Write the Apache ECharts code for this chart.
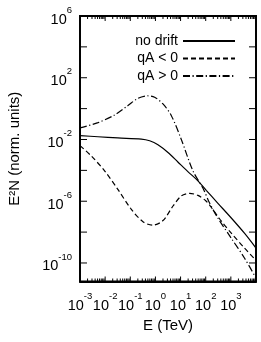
<!DOCTYPE html>
<html><head><meta charset="utf-8">
<script src="https://cdn.jsdelivr.net/npm/echarts@6/dist/echarts.min.js"></script>
<style>html,body{margin:0;padding:0;background:#fff}#c{width:261px;height:342px}</style>
</head><body><div id="c"></div>
<script>
// ---- data (E in TeV, E^2 N in normalised units) ----
const seriesNames = ['no drift', 'qA < 0', 'qA > 0'];

const eNoDrift = [1e-3, 5.2e-3, 3.2e-2, 0.275, 0.59, 1.26, 3.16, 7.8, 19.5, 49, 105, 300, 1020, 3470, 1e4];
const vNoDrift = [1.8e-2, 1.5e-2, 1.26e-2, 1.07e-2, 8.3e-3, 4.6e-3, 1.45e-3, 3.5e-4, 8.3e-5, 2.1e-5, 5.1e-6, 7.6e-7, 8.5e-8, 8.5e-9, 9.3e-10];

const eNeg = [1e-3, 2.8e-3, 9.5e-3, 3.2e-2, 0.11, 0.32, 0.79, 2.0, 5.0, 10.7, 23, 49, 105, 190, 420, 1020, 3470, 1e4];
const vNeg = [4.0e-3, 8.7e-4, 9.3e-5, 5.9e-6, 3.0e-7, 4.7e-8, 2.8e-8, 5.6e-8, 4.9e-7, 2.2e-6, 3.2e-6, 2.4e-6, 1.0e-6, 3.0e-7, 5.1e-8, 8.9e-9, 9.3e-10, 1.5e-10];

const ePos = [1e-3, 5.2e-3, 2.4e-2, 8.1e-2, 0.2, 0.5, 0.93, 2.0, 4.3, 10.7, 31, 78, 141, 300, 1020, 3470, 1e4];
const vPos = [5.6e-2, 0.123, 0.39, 1.58, 4.6, 6.8, 5.5, 2.0, 0.35, 1.0e-2, 9.3e-5, 6.9e-6, 7.9e-7, 8.5e-8, 4.2e-9, 2.1e-10, 1.05e-11];

// ---- axis ticks / labels (decade exponents) ----
const xMajorExps = [-3, -2, -1, 0, 1, 2, 3, 4];
const xLabelExps = [-3, -2, -1, 0, 1, 2, 3];
const yTickExps = [6, 4, 2, 0, -2, -4, -6, -8, -10];
const yLabelExps = [6, 2, -2, -6, -10];
const xMin = -3, xMax = 4, yMin = -11.2, yMax = 6;

const xMinorExps = [];
xMajorExps.slice(0, -1).forEach(n => { for (let k = 2; k <= 9; k++) xMinorExps.push(n + Math.log10(k)); });

const FONT = '"Liberation Sans", Arial, Helvetica, sans-serif';
const rich = {
  b: { fontSize: 14.5, lineHeight: 22, verticalAlign: 'bottom', fontFamily: FONT, color: '#000' },
  s: { fontSize: 9.5, lineHeight: 10, verticalAlign: 'top', fontFamily: FONT, color: '#000' }
};
const pow = v => '{b|10}{s|' + Math.round(v) + '}';

// frame + inside ticks, placed through the axes' scales
const tickData = []
  .concat(xMajorExps.slice(1, -1).map(v => [v, yMin, 0]))
  .concat(xMinorExps.map(v => [v, yMin, 1]))
  .concat(yTickExps.map(v => [xMin, v, 2]))
  .concat([[xMin, yMin, 3]]);

function renderTick(params, api) {
  const kind = api.value(2);
  const st = { stroke: '#000', lineWidth: 1, fill: null };
  if (kind === 3) {
    const p0 = api.coord([xMin, yMax]), p1 = api.coord([xMax, yMin]);
    return { type: 'rect', shape: { x: p0[0], y: p0[1], width: p1[0] - p0[0], height: p1[1] - p0[1] },
             style: { fill: null, stroke: '#000', lineWidth: 1.8 } };
  }
  if (kind === 2) {
    const yv = api.value(1);
    const a = api.coord([xMin, yv]), b = api.coord([xMax, yv]);
    return { type: 'group', children: [
      { type: 'line', shape: { x1: a[0], y1: a[1], x2: a[0] + 7, y2: a[1] }, style: st },
      { type: 'line', shape: { x1: b[0], y1: b[1], x2: b[0] - 7, y2: b[1] }, style: st } ] };
  }
  const len = kind === 0 ? 5 : 3;
  const xv = api.value(0);
  const a = api.coord([xv, yMin]), b = api.coord([xv, yMax]);
  return { type: 'group', children: [
    { type: 'line', shape: { x1: a[0], y1: a[1], x2: a[0], y2: a[1] - len }, style: st },
    { type: 'line', shape: { x1: b[0], y1: b[1], x2: b[0], y2: b[1] + len }, style: st } ] };
}

function mk(name, es, vs, dash) {
  return {
    name: name, type: 'line', xAxisIndex: 0, yAxisIndex: 0,
    data: es.map((e, i) => [Math.log10(e), Math.log10(vs[i])]),
    symbol: 'none', showSymbol: false, smooth: 0.3,
    lineStyle: { color: '#000', width: 1.2, type: dash },
    itemStyle: { color: '#000' },
    clip: true
  };
}

const line2 = { show: true, onZero: false, lineStyle: { color: '#000', width: 1.8 } };

const chart = echarts.init(document.getElementById('c'), null, { renderer: 'canvas' });
chart.setOption({
  animation: false,
  grid: { left: 80, right: 5, top: 16, bottom: 60.5, containLabel: false, outerBoundsMode: 'none' },
  xAxis: [{
    type: 'value', min: xMin, max: xMax, position: 'bottom',
    axisLine: line2, axisTick: { show: false }, splitLine: { show: false },
    axisLabel: { show: true, customValues: xLabelExps, formatter: pow, margin: 10, rich: rich,
                 showMinLabel: true, showMaxLabel: true, hideOverlap: false },
    name: 'E (TeV)', nameLocation: 'middle', nameGap: 35,
    nameTextStyle: { fontSize: 15, fontFamily: FONT, color: '#000' }
  }, {
    type: 'value', min: xMin, max: xMax, position: 'top',
    axisLine: line2, axisTick: { show: false }, splitLine: { show: false }, axisLabel: { show: false }
  }],
  yAxis: [{
    type: 'value', min: yMin, max: yMax, position: 'left',
    axisLine: line2, axisTick: { show: false }, splitLine: { show: false },
    axisLabel: { show: true, customValues: yLabelExps, formatter: pow, margin: 8, rich: rich,
                 showMinLabel: true, showMaxLabel: true, hideOverlap: false },
    name: 'E\u00b2N (norm. units)', nameLocation: 'middle', nameGap: 58,
    nameTextStyle: { fontSize: 15, fontFamily: FONT, color: '#000' }
  }, {
    type: 'value', min: yMin, max: yMax, position: 'right',
    axisLine: line2, axisTick: { show: false }, splitLine: { show: false }, axisLabel: { show: false }
  }],
  legend: {
    data: seriesNames, orient: 'vertical', right: 20, top: 29, align: 'right',
    itemWidth: 52, itemHeight: 14, itemGap: 3.5, selectedMode: false,
    itemStyle: { opacity: 0 },
    textStyle: { fontSize: 14, fontFamily: FONT, color: '#000' }
  },
  series: [
    mk(seriesNames[0], eNoDrift, vNoDrift, 'solid'),
    mk(seriesNames[1], eNeg, vNeg, [5, 3]),
    mk(seriesNames[2], ePos, vPos, [7, 2.5, 1.2, 2.5]),
    { type: 'custom', name: 'frame', xAxisIndex: 0, yAxisIndex: 0, data: tickData, renderItem: renderTick,
      silent: true, clip: false, z: 10, encode: { x: 0, y: 1 } }
  ]
});
</script></body></html>
